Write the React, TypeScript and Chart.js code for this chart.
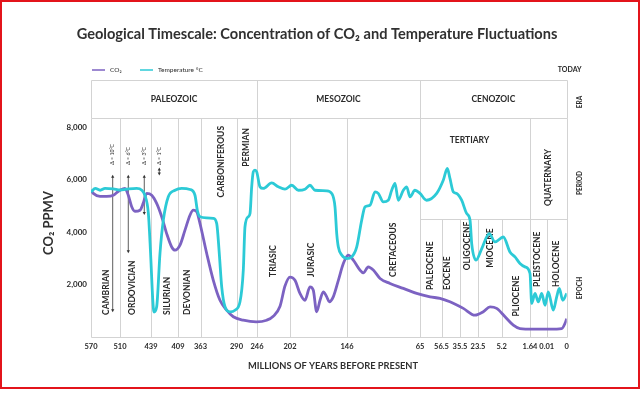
import React, { useEffect, useRef } from "react";
import { Chart, registerables } from "chart.js";

Chart.register(...registerables);

// ---------- data ----------
const BOUNDARIES_MA = [570, 510, 439, 409, 363, 290, 246, 202, 146, 65, 56.5, 35.5, 23.5, 5.2, 1.64, 0.01, 0];
const TICK_LABELS = ["570", "510", "439", "409", "363", "290", "246", "202", "146", "65", "56.5", "35.5", "23.5", "5.2", "1.64", "0.01", "0"];
const Y_TICKS = [2000, 4000, 6000, 8000];

const TEMP_MA = [570, 561, 551, 541, 524, 510, 495, 472, 460, 453, 445, 440, 437, 435.7, 432.7, 429, 425.3, 419.8, 412.3, 401.4, 384.5, 374.3, 369.5, 363.9, 350.4, 337, 330.1, 324.9, 320, 313.3, 303.2, 293.1, 282.5, 275.4, 271.8, 264.7, 261, 257.4, 254, 250.3, 246.6, 242, 237.6, 226.4, 217.6, 208.7, 200.3, 193.8, 187.3, 182.4, 177.4, 165.9, 161, 157.8, 156.1, 154.5, 151.2, 146.3, 140.8, 135.2, 129.7, 126, 120.5, 114.9, 111.3, 105.7, 100.2, 96.4, 92.7, 89.1, 83.5, 79.8, 76.1, 70.6, 65, 62.4, 58.4, 54.5, 49.9, 46.9, 43.1, 39.2, 34.4, 31, 28.8, 27.7, 24.8, 20.6, 14.8, 10.4, 5.0, 4.16, 3.53, 2.9, 2.27, 1.64, 1.474, 1.152, 0.83, 0.496, 0.174, 0.0092, 0.0067, 0.005, 0.0037, 0.002, 0];
const TEMP_VALUES = [5530, 5660, 5590, 5660, 5640, 5600, 5630, 5660, 5590, 5400, 4700, 3200, 1400, 950, 1150, 3190, 4450, 5340, 5590, 5660, 5620, 5400, 4830, 4580, 4540, 4520, 4320, 3180, 1910, 1150, 960, 1020, 1340, 2550, 4200, 4580, 4700, 5720, 6290, 6360, 6290, 5720, 5660, 5870, 5720, 5630, 5780, 5590, 5630, 5780, 5590, 5570, 5470, 4960, 3940, 3430, 3120, 2990, 3050, 3430, 4450, 4960, 5020, 5530, 5470, 5150, 5210, 5590, 5850, 5210, 5590, 5720, 5340, 5590, 5470, 5210, 5470, 5970, 6420, 6040, 5530, 5470, 5210, 4700, 4450, 3560, 2930, 3370, 3940, 3620, 3810, 3240, 3050, 2800, 2670, 2420, 1280, 1660, 1340, 1660, 1210, 1720, 1020, 1530, 1850, 1400, 1660];

const CO2_MA = [570, 565.2, 551.4, 537.5, 523.9, 514.8, 510, 498.6, 491, 483.2, 475.7, 464.2, 456.7, 448.9, 438.2, 432.7, 427.1, 421.6, 416, 412.3, 404.9, 394.7, 384.5, 377.7, 370.8, 364, 350.4, 337, 323.5, 309.9, 296.5, 275.4, 247.5, 233.1, 224.3, 215.3, 208.7, 202, 197.1, 192.2, 187.3, 182.4, 179.1, 175.8, 172.5, 169.3, 165.9, 163.4, 159.5, 154.5, 149.6, 144.6, 139, 131.6, 127.9, 122.4, 116.8, 109.3, 98.3, 83.5, 68.7, 61, 57.1, 46.9, 33.3, 25.5, 19.4, 14.2, 9.06, 4.78, 3.74, 2.9, 1.318, 0.0084, 0.0025, 0.0009, 0];
const CO2_PPMV = [5590, 5470, 5360, 5360, 5400, 5530, 5590, 5660, 5400, 4960, 4790, 4830, 5100, 5470, 5400, 5090, 4580, 3940, 3430, 3310, 3500, 4070, 4640, 4830, 4770, 4320, 3180, 2160, 1400, 1020, 770, 640, 575, 640, 790, 1170, 1940, 2280, 2160, 1660, 1400, 1910, 1780, 960, 1400, 1720, 1530, 1340, 1530, 2160, 2800, 3120, 2930, 2550, 2440, 2670, 2550, 2230, 2040, 1850, 1660, 1530, 1470, 1340, 1090, 830, 960, 1150, 1090, 770, 450, 320, 300, 300, 320, 510, 700];

const ERAS = [
  { name: "PALEOZOIC", from: 570, to: 246 },
  { name: "MESOZOIC", from: 246, to: 65 },
  { name: "CENOZOIC", from: 65, to: 0 },
];
const PERIOD_LINES_MA = [570, 510, 439, 409, 363, 290, 246, 202, 146, 65, 1.64, 0];
const EPOCH_LINES_MA = [56.5, 35.5, 23.5, 5.2, 0.01];

// rotated period / epoch labels: anchor y in chart value units
const UNIT_LABELS = [
  { text: "CAMBRIAN", from: 570, to: 510, frac: 0.52, y: 840, anchor: "start" },
  { text: "ORDOVICIAN", from: 510, to: 439, frac: 0.4, y: 840, anchor: "start" },
  { text: "SILURIAN", from: 439, to: 409, frac: 0.61, y: 840, anchor: "start" },
  { text: "DEVONIAN", from: 409, to: 363, frac: 0.4, y: 840, anchor: "start" },
  { text: "CARBONIFEROUS", from: 363, to: 290, frac: 0.59, y: 8040, anchor: "end" },
  { text: "PERMIAN", from: 290, to: 246, frac: 0.5, y: 7960, anchor: "end" },
  { text: "TRIASIC", from: 246, to: 202, frac: 0.5, y: 2290, anchor: "start" },
  { text: "JURASIC", from: 202, to: 146, frac: 0.38, y: 2290, anchor: "start" },
  { text: "CRETACEOUS", from: 146, to: 65, frac: 0.64, y: 2290, anchor: "start" },
  { text: "QUATERNARY", from: 1.64, to: 0, frac: 0.5, y: 7160, anchor: "end" },
  { text: "PALEOCENE", from: 65, to: 56.5, frac: 0.5, y: 1790, anchor: "start" },
  { text: "EOCENE", from: 56.5, to: 35.5, frac: 0.33, y: 1790, anchor: "start" },
  { text: "OLIGOCENE", from: 35.5, to: 23.5, frac: 0.39, y: 2540, anchor: "start" },
  { text: "MIOCENE", from: 23.5, to: 5.2, frac: 0.5, y: 2640, anchor: "start" },
  { text: "PLIOCENE", from: 5.2, to: 1.64, frac: 0.5, y: 780, anchor: "start" },
  { text: "PLEISTOCENE", from: 1.64, to: 0.01, frac: 0.45, y: 1905, anchor: "start" },
  { text: "HOLOCENE", from: 0.01, to: 0, frac: 0.5, y: 1905, anchor: "start" },
];
const TERTIARY = { text: "TERTIARY", from: 65, to: 1.64, frac: 0.45, y: 7505 };

const DELTA_LABELS = ["Δ = 10°C", "Δ = 6°C", "Δ = 3°C", "Δ = 1°C"];
const DELTA_AT_MA = [525.1, 491, 454.4, 429.8];
const DELTA_TOP = [6100, 6100, 6100, 6380];
const DELTA_BOTTOM = [1020, 3270, 4720, 6230];

// ---------- layout / style ----------
const SEGMENT_WIDTHS = [29, 31, 27, 22.5, 36, 20.5, 33, 57, 73, 21.5, 18.5, 18, 23.7, 28.3, 16.7, 20];
const CUM: number[] = [0];
SEGMENT_WIDTHS.forEach((w) => CUM.push(CUM[CUM.length - 1] + w));
const X_TOTAL = CUM[CUM.length - 1];
const Y_MAX = 9790;
const ERA_ROW_H = 38;
const TERTIARY_ROW_H = 139;

const CYAN = "#2ccad6";
const PURPLE = "#7c62c2";
const GRID = "#d3d3d3";
const TEXT = "#2a2a2a";
const FONT = "Lato, 'Open Sans', sans-serif";

function toAxis(ma: number): number {
  for (let i = 0; i < BOUNDARIES_MA.length - 1; i++) {
    const a = BOUNDARIES_MA[i];
    const b = BOUNDARIES_MA[i + 1];
    if (ma <= a && ma >= b) {
      const f = (a - ma) / (a - b);
      return CUM[i] + f * (CUM[i + 1] - CUM[i]);
    }
  }
  return ma > BOUNDARIES_MA[0] ? 0 : X_TOTAL;
}

function vtext(ctx: CanvasRenderingContext2D, text: string, x: number, y: number, align: CanvasTextAlign) {
  ctx.save();
  ctx.translate(x, y);
  ctx.rotate(-Math.PI / 2);
  ctx.textAlign = align;
  ctx.textBaseline = "middle";
  ctx.fillText(text, 0, 0);
  ctx.restore();
}

const structurePlugin = {
  id: "structure",
  beforeDatasetsDraw(chart: any) {
    const { ctx, chartArea } = chart;
    const xs = chart.scales.x;
    const ys = chart.scales.y;
    const top = chartArea.top;
    const bottom = chartArea.bottom;
    const left = chartArea.left;
    const right = chartArea.right;
    const px = (ma: number) => xs.getPixelForValue(toAxis(ma));
    const eraBottom = top + ERA_ROW_H;
    const tertBottom = top + TERTIARY_ROW_H;

    ctx.save();
    ctx.strokeStyle = GRID;
    ctx.lineWidth = 1;
    const line = (x1: number, y1: number, x2: number, y2: number) => {
      ctx.beginPath();
      ctx.moveTo(Math.round(x1) + 0.5, Math.round(y1) + 0.5);
      ctx.lineTo(Math.round(x2) + 0.5, Math.round(y2) + 0.5);
      ctx.stroke();
    };
    line(left, top, right, top);
    line(left, eraBottom, right, eraBottom);
    line(left, bottom, right, bottom);
    line(px(65), tertBottom, right, tertBottom);
    ERAS.forEach((e) => {
      line(px(e.from), top, px(e.from), eraBottom);
      line(px(e.to), top, px(e.to), eraBottom);
    });
    PERIOD_LINES_MA.forEach((m) => line(px(m), eraBottom, px(m), bottom));
    EPOCH_LINES_MA.forEach((m) => line(px(m), tertBottom, px(m), bottom));

    // texts
    ctx.fillStyle = TEXT;
    ctx.font = `bold 8.5px ${FONT}`;
    ctx.textBaseline = "middle";
    ctx.textAlign = "center";
    ERAS.forEach((e) => {
      ctx.fillText(e.name, (px(e.from) + px(e.to)) / 2, top + ERA_ROW_H / 2);
    });
    const tx = px(TERTIARY.from) + TERTIARY.frac * (px(TERTIARY.to) - px(TERTIARY.from));
    ctx.fillText(TERTIARY.text, tx, ys.getPixelForValue(TERTIARY.y));

    ctx.font = `bold 8.5px ${FONT}`;
    UNIT_LABELS.forEach((l) => {
      const x = px(l.from) + l.frac * (px(l.to) - px(l.from));
      const y = ys.getPixelForValue(l.y);
      vtext(ctx, l.text, x, y, l.anchor === "start" ? "left" : "right");
    });

    // delta annotations
    ctx.strokeStyle = "#333";
    ctx.fillStyle = "#333";
    ctx.lineWidth = 0.8;
    DELTA_LABELS.forEach((t, i) => {
      const x = px(DELTA_AT_MA[i]);
      const yTop = ys.getPixelForValue(DELTA_TOP[i]);
      const yBot = ys.getPixelForValue(DELTA_BOTTOM[i]);
      ctx.beginPath();
      ctx.moveTo(x, yTop);
      ctx.lineTo(x, yBot);
      ctx.stroke();
      const tri = (y: number, dir: number) => {
        ctx.beginPath();
        ctx.moveTo(x, y + dir * 2);
        ctx.lineTo(x - 1.6, y - dir * 1);
        ctx.lineTo(x + 1.6, y - dir * 1);
        ctx.closePath();
        ctx.fill();
      };
      tri(yTop, -1);
      tri(yBot, 1);
      ctx.font = `5.2px ${FONT}`;
      vtext(ctx, t, x, ys.getPixelForValue(6560), "left");
    });
    ctx.restore();
  },
  afterDraw(chart: any) {
    const { ctx, chartArea } = chart;
    const W = chart.width;
    const H = chart.height;
    ctx.save();
    // title
    ctx.fillStyle = "#303030";
    ctx.font = `bold 14.6px ${FONT}`;
    ctx.textAlign = "center";
    ctx.textBaseline = "middle";
    ctx.fillText("Geological Timescale: Concentration of CO₂ and Temperature Fluctuations", 317, 34);

    // legend
    ctx.lineWidth = 1.5;
    ctx.strokeStyle = PURPLE;
    ctx.beginPath();
    ctx.moveTo(92, 70);
    ctx.lineTo(105, 70);
    ctx.stroke();
    ctx.strokeStyle = CYAN;
    ctx.beginPath();
    ctx.moveTo(140, 70);
    ctx.lineTo(153, 70);
    ctx.stroke();
    ctx.fillStyle = TEXT;
    ctx.font = `6.5px ${FONT}`;
    ctx.textAlign = "left";
    ctx.fillText("CO₂", 110, 70);
    ctx.fillText("Temperature °C", 158, 70);

    // right side labels
    ctx.font = `bold 7px ${FONT}`;
    ctx.textAlign = "center";
    ctx.fillText("TODAY", chartArea.right + 3, 70);
    ctx.font = `bold 6.5px ${FONT}`;
    vtext(ctx, "ERA", 580, 102, "center");
    vtext(ctx, "PERIOD", 580, 183, "center");
    vtext(ctx, "EPOCH", 580, 288, "center");

    // axis titles
    ctx.font = `bold 13px ${FONT}`;
    ctx.fillStyle = "#303030";
    vtext(ctx, "CO₂ PPMV", 49, 223, "center");
    ctx.font = `bold 9.3px ${FONT}`;
    ctx.textAlign = "center";
    ctx.fillText("MILLIONS OF YEARS BEFORE PRESENT", 333, 366);

    // frame
    ctx.strokeStyle = "#e3141b";
    ctx.lineWidth = 2;
    ctx.strokeRect(1, 1, W - 2, H - 6);
    ctx.restore();
  },
};

export default function App() {
  const ref = useRef<HTMLCanvasElement | null>(null);
  useEffect(() => {
    document.body.style.margin = "0";
    if (!ref.current) return;
    const chart = new Chart(ref.current, {
      type: "line",
      data: {
        datasets: [
          {
            label: "Temperature °C",
            data: TEMP_MA.map((m, i) => ({ x: toAxis(m), y: TEMP_VALUES[i] })),
            borderColor: CYAN,
            backgroundColor: CYAN,
            borderWidth: 2.8,
            pointRadius: 0,
            cubicInterpolationMode: "monotone",
            fill: false,
          },
          {
            label: "CO₂",
            data: CO2_MA.map((m, i) => ({ x: toAxis(m), y: CO2_PPMV[i] })),
            borderColor: PURPLE,
            backgroundColor: PURPLE,
            borderWidth: 2.8,
            pointRadius: 0,
            cubicInterpolationMode: "monotone",
            fill: false,
          },
        ],
      },
      options: {
        animation: false,
        responsive: false,
        maintainAspectRatio: false,
        layout: { padding: { top: 80, right: 73.3, left: 0, bottom: 0 } },
        plugins: {
          legend: { display: false },
          tooltip: { enabled: false },
          title: { display: false },
        },
        scales: {
          x: {
            type: "linear",
            min: 0,
            max: X_TOTAL,
            grid: { display: false, drawTicks: false },
            border: { display: false },
            afterBuildTicks: (s: any) => {
              s.ticks = BOUNDARIES_MA.map((m) => ({ value: toAxis(m) }));
            },
            afterFit: (s: any) => {
              s.height = 56;
            },
            ticks: {
              autoSkip: false,
              maxRotation: 0,
              minRotation: 0,
              padding: 5,
              color: TEXT,
              font: { family: FONT, size: 7.5, weight: "bold" },
              callback: (_v: any, i: number) => TICK_LABELS[i],
            },
          },
          y: {
            min: 0,
            max: Y_MAX,
            grid: { display: false, drawTicks: false },
            border: { display: false },
            afterBuildTicks: (s: any) => {
              s.ticks = Y_TICKS.map((v) => ({ value: v }));
            },
            afterFit: (s: any) => {
              s.width = 91;
            },
            ticks: {
              padding: 4,
              color: TEXT,
              font: { family: FONT, size: 8, weight: "bold" },
              callback: (v: any) => Number(v).toLocaleString("en-US"),
            },
          },
        },
      },
      plugins: [structurePlugin],
    });
    return () => chart.destroy();
  }, []);
  return (
    <div style={{ width: 640, height: 393, position: "relative", background: "#fff" }}>
      <canvas ref={ref} width={640} height={393} style={{ width: 640, height: 393, display: "block" }} />
    </div>
  );
}
